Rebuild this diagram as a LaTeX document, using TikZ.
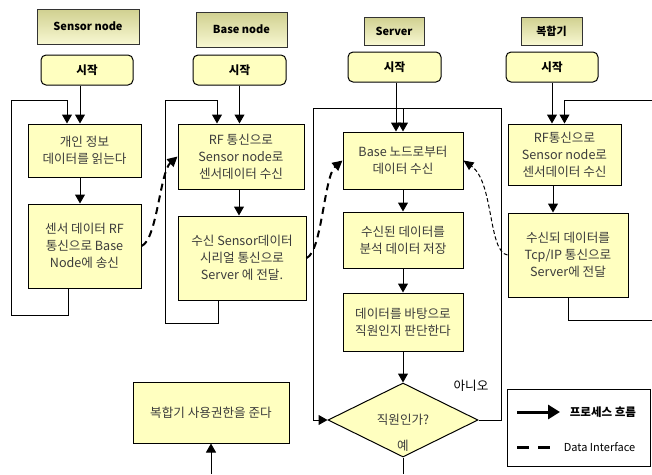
\documentclass[tikz,border=0pt]{standalone}
\usepackage{fontspec}
\setmainfont{Noto Sans CJK KR}
\usetikzlibrary{arrows.meta, shapes.geometric, positioning}
\definecolor{boxfill}{RGB}{255,255,192}
\definecolor{hdrtop}{RGB}{208,208,144}
\definecolor{hdrbot}{RGB}{248,248,210}
\definecolor{txtgray}{RGB}{60,60,60}

\begin{document}
\begin{tikzpicture}[x=1pt, y=-1pt, line width=1pt,
    hdr/.style = {draw=black!80, top color=hdrtop, bottom color=hdrbot, inner sep=0pt, font=\fontsize{11}{13}\selectfont\bfseries},
    startbox/.style = {draw, fill=boxfill, rounded corners=5pt, minimum height=30pt, inner sep=0pt, font=\fontsize{11.5}{13}\selectfont\bfseries},
    procbox/.style = {draw, fill=boxfill, inner sep=0pt, align=center, text=txtgray, font=\fontsize{12.6}{17}\selectfont},
    decbox/.style = {draw, diamond, fill=boxfill, inner sep=0pt, text=txtgray, font=\fontsize{12.6}{14}\selectfont},
    flowline/.style = {-{Triangle[length=9pt, width=10pt]}},
    dataline/.style = {line width=2pt, dash pattern=on 7pt off 5pt, -{Triangle[length=10pt, width=10pt]}},
    thindata/.style = {line width=1pt, dash pattern=on 4pt off 2.5pt, -{Triangle[length=10pt, width=9pt]}}]
    \useasboundingbox (0,0) rectangle (652,474);

    \node[hdr, minimum width=102pt, minimum height=35pt] (sh) at (88,26.5) {Sensor node};
    \node[startbox, minimum width=92pt] (s0) at (87,70) {시작};
    \node[procbox, minimum width=113pt, minimum height=53pt] (s1) at (84.5,150.5) {개인 정보\\데이터를 읽는다};
    \node[procbox, minimum width=113pt, minimum height=84pt] (s2) at (84.5,246) {센서 데이터 RF\\통신으로 Base\\Node에 송신};

    \node[hdr, minimum width=91pt, minimum height=35pt] (bh) at (241.5,29.5) {Base node};
    \node[startbox, minimum width=93pt] (b0) at (239.5,70) {시작};
    \node[procbox, minimum width=126pt, minimum height=65pt] (b1) at (241,156.5) {RF 통신으로\\Sensor node로\\센서데이터 수신};
    \node[procbox, minimum width=128pt, minimum height=84pt] (b2) at (242,258) {수신 Sensor데이터\\시리얼 통신으로\\Server 에 전달.};

    \node[hdr, minimum width=60pt, minimum height=28pt] (vh) at (394,31) {Server};
    \node[startbox, minimum width=93pt] (v0) at (394.5,67) {시작};
    \node[procbox, minimum width=120pt, minimum height=57pt] (v1) at (403,160.5) {Base 노드로부터\\데이터 수신};
    \node[procbox, minimum width=120pt, minimum height=56pt] (v2) at (403,240) {수신된 데이터를\\분석 데이터 저장};
    \node[procbox, minimum width=120pt, minimum height=58pt] (v3) at (403,322) {데이터를 바탕으로\\직원인지 판단한다};
    \node[decbox, minimum width=150pt, minimum height=74pt] (v4) at (403,420) {직원인가?};
    \node[text=txtgray, font=\fontsize{12.6}{14}\selectfont] (yes) at (403,446) {예};
    \node[font=\fontsize{12.6}{14}\selectfont] (no) at (471,386) {아니오};

    \node[hdr, minimum width=61pt, minimum height=28pt] (mh) at (551.5,31) {복합기};
    \node[startbox, minimum width=92pt] (m0) at (552,67) {시작};
    \node[procbox, minimum width=113pt, minimum height=61pt] (m1) at (564.5,154.5) {RF통신으로\\Sensor node로\\센서데이터 수신};
    \node[procbox, minimum width=120pt, minimum height=84pt] (m2) at (568,255) {수신되 데이터를\\Tcp/IP 통신으로\\Server에 전달};

    \node[procbox, minimum width=156pt, minimum height=61pt] (g) at (211,412.5) {복합기 사용권한을 준다};

    \draw[flowline] ([xshift=-7pt]s0.south) -- ([xshift=-4.5pt]s1.north);
    \draw[flowline] ([xshift=-4.5pt]s1.south) -- ([xshift=-4.5pt]s2.north);
    \draw[flowline] ([xshift=-16.5pt]s2.south) |- (11,315) |- (67,100) -- ([xshift=-17.5pt]s1.north);

    \draw[flowline] (b0.south) -- ([xshift=-1.5pt]b1.north);
    \draw[flowline] ([xshift=-2pt]b1.south) -- ([xshift=-3pt]b2.north);
    \draw[flowline] ([xshift=-24pt]b2.south) |- (165,323) |- (217,100) -- ([xshift=-24pt]b1.north);

    \coordinate (vtop) at (403,108);
    \draw[flowline] ([xshift=1.5pt]v0.south) -- ([xshift=-7pt]v1.north);
    \draw[flowline] (v4.east) -- (501,420) |- (313,108) |- (v4.west);
    \draw[flowline] (vtop) -- (v1.north);
    \draw[flowline] (v1) -- (v2);
    \draw[flowline] (v2) -- (v3);
    \draw[flowline] (v3) -- (v4);
    \coordinate (vend) at (403,474);
    \draw (v4.south) -- (vend);

    \coordinate (gin) at (211,474);
    \draw[flowline] (gin) -- (g.south);

    \coordinate (mout) at (652,320);
    \coordinate (min) at (652,100);
    \draw[flowline] (m0.south) -- ([xshift=-12.5pt]m1.north);
    \draw[flowline] ([xshift=-11.5pt]m1.south) -- ([xshift=-15pt]m2.north);
    \draw (m2.south) |- (mout);
    \draw[flowline] (min) -| (m1.north);

    \draw[dataline] (s2.east) .. controls (157,240) and (160,172) .. (b1.west);
    \draw[dataline] (b2.east) .. controls (322,252) and (324,176) .. (v1.west);
    \draw[thindata] (m2.west) .. controls (488,252) and (494,182) .. (v1.east);

    \node[draw, fill=white, minimum width=143pt, minimum height=77pt, inner sep=0pt] (lg) at (578.5,427.5) {};
    \coordinate (la1) at (517,412);
    \coordinate (la2) at (560,412);
    \coordinate (ld1) at (517,447);
    \coordinate (ld2) at (558,447);
    \draw[line width=3pt, -{Triangle[length=12pt, width=14pt]}] (la1) -- (la2);
    \draw[line width=3pt, dash pattern=on 12pt off 9pt] (ld1) -- (ld2);
    \node[anchor=west, font=\fontsize{11.5}{13}\selectfont\bfseries] (lt1) at (566,412) {프로세스 흐름};
    \node[anchor=west, font=\fontsize{11}{13}\selectfont] (lt2) at (560,447) {Data Interface};
\end{tikzpicture}
\end{document}
